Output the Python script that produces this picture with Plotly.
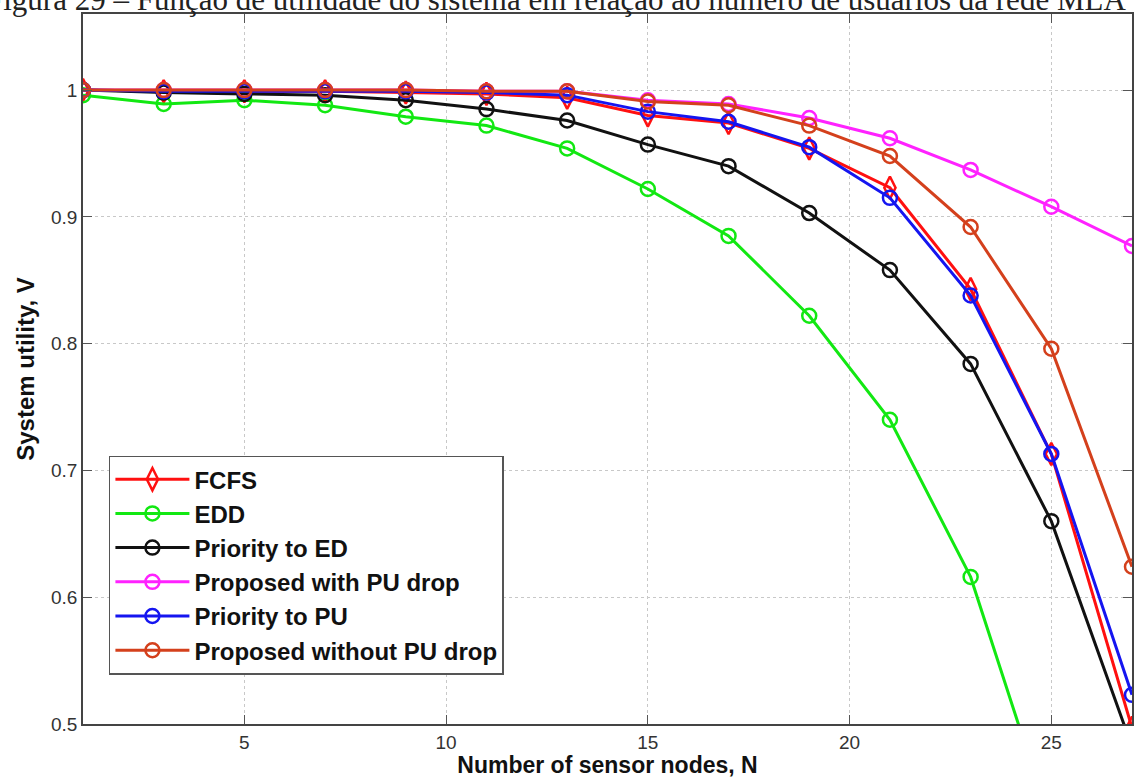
import plotly.graph_objects as go

# ---- data ----
n_nodes = [1, 3, 5, 7, 9, 11, 13, 15, 17, 19, 21, 23, 25, 27]
n_nodes_edd = [1, 3, 5, 7, 9, 11, 13, 15, 17, 19, 21, 23, 25]

fcfs = [1.000, 0.999, 0.999, 0.999, 0.998, 0.997, 0.994, 0.980, 0.974, 0.954, 0.923, 0.843, 0.713, 0.497]
edd = [0.996, 0.989, 0.992, 0.988, 0.979, 0.972, 0.954, 0.922, 0.885, 0.822, 0.740, 0.616, 0.420]
prio_ed = [1.000, 0.998, 0.997, 0.996, 0.992, 0.985, 0.976, 0.957, 0.940, 0.903, 0.858, 0.784, 0.660, 0.482]
prop_with = [1.000, 1.000, 1.000, 1.000, 1.000, 0.999, 0.999, 0.992, 0.989, 0.978, 0.962, 0.937, 0.908, 0.877]
prio_pu = [1.000, 0.999, 0.999, 0.999, 0.999, 0.998, 0.996, 0.983, 0.975, 0.955, 0.915, 0.838, 0.713, 0.523]
prop_without = [1.000, 1.000, 1.000, 1.000, 1.000, 0.999, 0.999, 0.991, 0.988, 0.972, 0.948, 0.892, 0.796, 0.624]

series_names = ["FCFS", "EDD", "Priority to ED", "Proposed with PU drop",
                "Priority to PU", "Proposed without PU drop"]
series_x = [n_nodes, n_nodes_edd, n_nodes, n_nodes, n_nodes, n_nodes]
series_y = [fcfs, edd, prio_ed, prop_with, prio_pu, prop_without]
series_colors = ["#FF1010", "#12E812", "#111111", "#FF22FF", "#1515F0", "#D4401C"]
series_symbols = ["diamond-tall-open", "circle-open", "circle-open", "circle-open",
                  "circle-open", "circle-open"]

x_ticks = [5, 10, 15, 20, 25]
y_ticks = [0.5, 0.6, 0.7, 0.8, 0.9, 1.0]
y_ticktext = ["0.5", "0.6", "0.7", "0.8", "0.9", "1"]

caption = ("Figura 29 – Função de utilidade do sistema em relação ao número de "
           "usuários da rede MLA")

FONT = "Liberation Sans, Arial, Helvetica, sans-serif"

fig = go.Figure()
for name, xs, ys, col, sym in zip(series_names, series_x, series_y,
                                  series_colors, series_symbols):
    fig.add_trace(go.Scatter(
        x=xs, y=ys, name=name, mode="lines+markers",
        line=dict(color=col, width=3),
        marker=dict(symbol=sym, size=14 if sym.startswith("circle") else 16,
                    color=col, line=dict(color=col, width=2.5)),
        cliponaxis=True,
    ))

axis_common = dict(
    showline=True, linecolor="#444444", linewidth=1.5, mirror="ticks",
    ticks="inside", ticklen=9, tickwidth=1.2, tickcolor="#555555",
    showgrid=True, gridcolor="#c8c8c8", gridwidth=1, griddash="dot",
    zeroline=False,
    tickfont=dict(family=FONT, size=19, color="#333333"),
)

fig.update_xaxes(range=[1, 27], tickvals=x_ticks, **axis_common,
                 title=dict(text="Number of sensor nodes, N", standoff=4,
                            font=dict(family=FONT, size=23, color="#111111",
                                      weight="bold")))
fig.update_yaxes(range=[0.5, 1.06], tickvals=y_ticks, ticktext=y_ticktext,
                 **axis_common,
                 title=dict(text="System utility, V", standoff=10,
                            font=dict(family=FONT, size=24, color="#111111",
                                      weight="bold")))

fig.update_layout(
    width=1137, height=778,
    margin=dict(l=83, r=3, t=14, b=54),
    paper_bgcolor="white", plot_bgcolor="white",
    showlegend=True,
    legend=dict(
        x=0.0247, y=0.378, xanchor="left", yanchor="top",
        bgcolor="white", bordercolor="#555555", borderwidth=1.5,
        font=dict(family=FONT, size=24, color="#111111", weight="bold"),
        itemwidth=74, tracegroupgap=0,
    ),
    annotations=[dict(
        text=caption, xref="paper", yref="paper",
        x=-0.0942, y=1.02, xanchor="left", yanchor="middle",
        showarrow=False,
        font=dict(family="Liberation Serif, Times New Roman, serif", size=31,
                  color="#222222"),
    )],
)

fig.write_html("out.html")
